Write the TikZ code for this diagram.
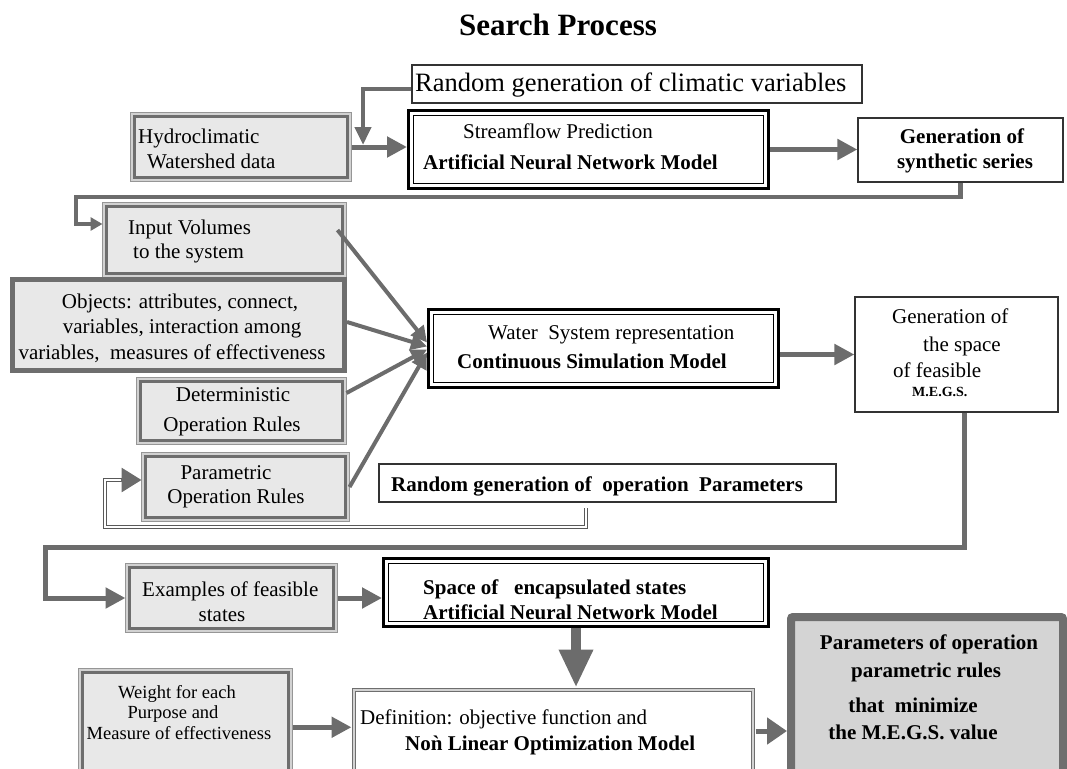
\documentclass[tikz,border=0pt]{standalone}
\usepackage{fontspec}
\setmainfont{Liberation Serif}
\usetikzlibrary{arrows.meta,fit,calc}
\definecolor{ag}{RGB}{108,108,108}
\definecolor{bfill}{RGB}{232,232,232}
\definecolor{bdark}{RGB}{110,110,110}
\definecolor{blite}{RGB}{210,210,210}
\definecolor{bline}{RGB}{150,150,150}
\definecolor{pfill}{RGB}{212,212,212}
\newcommand\myfs[1]{\fontsize{#1}{#1}\selectfont}
\begin{document}
\begin{tikzpicture}[x=1pt,y=-1pt,
  graybox/.style={fill=bfill, draw=bdark, line width=3.5pt,
    preaction={draw=bline, line width=9pt}, preaction={draw=blite, line width=7pt},
    inner sep=0pt, outer sep=4pt},
  objbox/.style={fill=bfill, draw=bdark, line width=5pt, inner sep=0pt, outer sep=2.5pt},
  annbox/.style={fill=white, draw=black, line width=1pt, double=white, double distance=3pt,
    preaction={draw=black, line width=9pt}, inner sep=0pt, outer sep=4.5pt},
  defbox/.style={fill=white, draw=bdark, line width=1pt, double=blite, double distance=2.5pt,
    inner sep=0pt, outer sep=2.5pt},
  plainbox/.style={fill=white, draw=black!80, line width=1.2pt, inner sep=0pt, outer sep=0.6pt},
  parmbox/.style={fill=pfill, draw=bdark, line width=8pt, rounded corners=2pt, inner sep=0pt, outer sep=4pt},
  tx/.style={text height=14.7pt, text depth=2.5pt, inner sep=0pt, font=\myfs{21}},
  tb/.style={text height=14.7pt, text depth=2.5pt, inner sep=0pt, font=\bfseries\myfs{21}},
  arr/.style={draw=ag, line width=5pt, -{Triangle[length=20pt,width=20pt]}},
  arrs/.style={draw=ag, line width=4.5pt, -{Triangle[length=18pt,width=16pt]}},
  arri/.style={draw=ag, line width=4.5pt, -{Triangle[length=12pt,width=13pt]}},
  arrc/.style={draw=ag, line width=4pt, -{Triangle[length=16pt,width=16pt]}},
  arrbig/.style={draw=ag, line width=10pt, -{Triangle[length=38pt,width=32pt]}},
  dbl/.style={draw=black!65, line width=1pt, double=white, double distance=2pt}
]
\useasboundingbox (0,0) rectangle (1067,768);

% title
\node[tb, font=\bfseries\myfs{31}, text height=21.7pt, text depth=3.7pt] (title) at (558,27) {Search Process};

% boxes
\node[plainbox, fit={(412,65) (862,103)}] (rcl) {};
\node[graybox, fit={(134.5,116.5) (347.5,177.5)}] (hyd) {};
\node[annbox, fit={(411.5,113.5) (765.5,185.5)}] (ann1) {};
\node[plainbox, fit={(858,118) (1063,182)}] (syn) {};
\node[graybox, fit={(106.5,206.5) (342.5,273.5)}] (inp) {};
\node[objbox, fit={(12.5,279.5) (344.5,370.5)}] (obj) {};
\node[graybox, fit={(140.5,381.5) (342.5,440.5)}] (det) {};
\node[graybox, fit={(145.5,456.5) (345.5,517.5)}] (par) {};
\node[annbox, fit={(431.5,312.5) (775.5,384.5)}] (cont) {};
\node[plainbox, fit={(855,297) (1058,412)}] (gsp) {};
\node[plainbox, fit={(379,464) (836,502)}] (rop) {};
\node[graybox, fit={(129.5,567.5) (333.5,628.5)}] (ex) {};
\node[annbox, fit={(386.5,561.5) (765.5,623.5)}] (sp) {};
\node[graybox, fit={(82.5,672.5) (288.5,790)}] (wt) {};
\node[defbox, fit={(354,690) (753,790)}] (def) {};
\node[parmbox, fit={(791,617) (1063,790)}] (parm) {};

% connectors
\coordinate (j1) at (363,145);
\coordinate (c1) at (76,197);
\coordinate (c2) at (45,547);
\coordinate (d1) at (586,508);
\coordinate (d2) at (105,527);

\draw[arr] (hyd.east) -- (hyd.east -| ann1.west);
\draw[arrs] ([yshift=-5]rcl.west) -| (j1);
\draw[arr] (ann1.east) -- (ann1.east -| syn.west);
\draw[arri] (syn.south) |- (c1) |- ([yshift=16]inp.west);
\draw[arrc] ([xshift=-9,yshift=10]inp.east) -- ([yshift=6]cont.west);
\draw[arrc] ([yshift=3]obj.east) -- ([yshift=2]cont.west);
\draw[arrc] ([yshift=18]det.east) -- ([yshift=-1]cont.west);
\draw[arrc] (par.east) -- ([yshift=-4]cont.west);
\draw[arr] (cont.east |- gsp.west) -- (gsp.west);
\draw[arr] ([xshift=8]gsp.south) |- (c2) |- (ex.west);
\draw[arr] (ex.east) -- (ex.east -| sp.west);
\draw[arrbig] (sp.south) -- (sp.south |- def.north);
\draw[arr] ([yshift=4]wt.east) -- ([yshift=4]wt.east -| def.west);
\draw[arr, -{Triangle[length=20pt,width=26pt]}] ([yshift=9]def.east) -- ([yshift=9]def.east -| parm.west);
\draw[dbl] (d1) |- (d2) |- ([xshift=-20,yshift=7]par.west);
\draw[draw=ag, line width=3pt, -{Triangle[length=20pt,width=24pt]}] ([xshift=-21,yshift=7]par.west) -- ([yshift=7]par.west);

% texts
\node[tx, font=\myfs{26.5}, text height=18.5pt, text depth=3.2pt, anchor=west] (rclt) at (415,84) {Random generation of climatic variables};
\node[tx, anchor=west] (hyd1) at (138,137) {Hydroclimatic};
\node[tx, anchor=west] (hyd2) at (147,162) {Watershed data};
\node[tx, anchor=west] (ann1a) at (463,132) {Streamflow Prediction};
\node[tb, anchor=west] (ann1b) at (423,163) {Artificial Neural Network Model};
\node[tb] (syn1) at (962,137) {Generation of};
\node[tb] (syn2) at (965,162) {synthetic series};
\node[tx, anchor=west] (inp1) at (128,228) {Input Volumes};
\node[tx, anchor=west] (inp2) at (133,252) {to the system};
\node[tx] (obj1) at (180,302) {Objects: attributes, connect,};
\node[tx] (obj2) at (182,327) {variables, interaction among};
\node[tx] (obj3) at (172,353) {variables,\ \ measures of effectiveness};
\node[tx] (det1) at (233,395) {Deterministic};
\node[tx] (det2) at (232,425) {Operation Rules};
\node[tx] (par1) at (226,473) {Parametric};
\node[tx] (par2) at (236,497) {Operation Rules};
\node[tx, anchor=west] (cont1) at (488,333) {Water\ \ System representation};
\node[tb, anchor=west] (cont2) at (457,362) {Continuous Simulation Model};
\node[tx, anchor=west] (gsp1) at (892,317) {Generation of};
\node[tx, anchor=west] (gsp2) at (923,345) {the space};
\node[tx, anchor=west] (gsp3) at (893,371) {of feasible};
\node[tb, font=\bfseries\myfs{14}, text height=9.8pt, text depth=1.7pt, anchor=west] (gsp4) at (912,392) {M.E.G.S.};
\node[tb, anchor=west] (ropt) at (391,485) {Random generation of\ \ operation\ \ Parameters};
\node[tx, anchor=west] (ex1) at (142,590) {Examples of feasible};
\node[tx] (ex2) at (222,615) {states};
\node[tb, anchor=west] (sp1) at (423,588) {Space of\ \ \ encapsulated states};
\node[tb, anchor=west] (sp2) at (423,613) {Artificial Neural Network Model};
\node[tx, font=\myfs{18.5}, text height=13pt, text depth=2.2pt] (wt1) at (177,693) {Weight for each};
\node[tx, font=\myfs{18.5}, text height=13pt, text depth=2.2pt] (wt2) at (173,713) {Purpose and};
\node[tx, font=\myfs{18.5}, text height=13pt, text depth=2.2pt] (wt3) at (179,734) {Measure of effectiveness};
\node[tx, anchor=west] (def1) at (360,718) {Definition: objective function and};
\node[tb, anchor=west] (def2) at (405,744) {No\`{n} Linear Optimization Model};
\node[tb] (pm1) at (929,643) {Parameters of operation};
\node[tb] (pm2) at (926,671) {parametric rules};
\node[tb] (pm3) at (913,706) {that\ \ minimize};
\node[tb] (pm4) at (913,733) {the M.E.G.S. value};
\end{tikzpicture}
\end{document}
